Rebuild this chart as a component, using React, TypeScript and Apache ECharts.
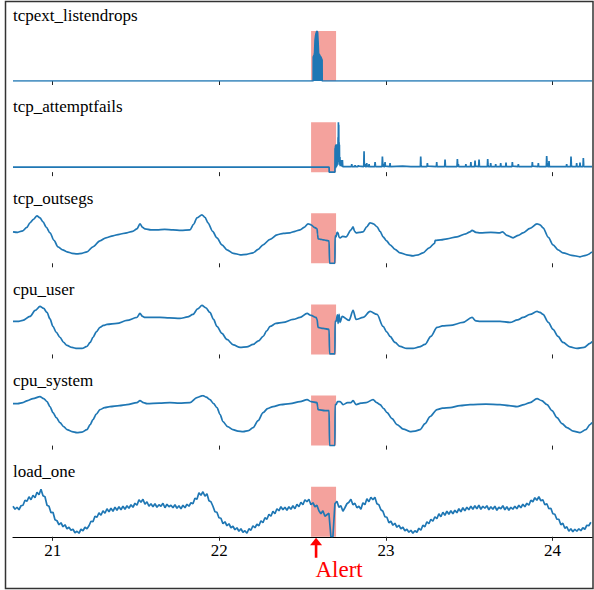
import React, { useEffect, useRef } from "react";
import * as echarts from "echarts";

// ---------- data ----------
const X_MIN = 20.762;
const X_MAX = 24.237;
const xTicks = [21, 22, 23, 24];
const panelNames = ["tcpext_listendrops", "tcp_attemptfails", "tcp_outsegs", "cpu_user", "cpu_system", "load_one"];
const alertStart = 22.551;
const alertEnd = 22.701;
const alertTime = 22.581;

// envelope of the dense burst (drawn filled)
const listendrops: [number, number][] = [
  [20.762, 0], [22.5635, 0], [22.564, 48], [22.569, 52], [22.572, 56], [22.575, 82], [22.578, 90], [22.581, 95],
  [22.584, 98], [22.587, 100], [22.590, 97], [22.593, 78], [22.596, 55], [22.600, 53], [22.605, 50], [22.611, 47],
  [22.617, 42], [22.6175, 0], [24.237, 0],
];

const attemptfails: [number, number][] = [
  [20.762, 10], [22.659, 10], [22.660, 0], [22.694, 0],
  [22.695, 48], [22.696, 10], [22.697, 52], [22.698, 8], [22.699, 55], [22.700, 12], [22.701, 54], [22.702, 10],
  [22.703, 56], [22.704, 14], [22.705, 55], [22.706, 12], [22.707, 54], [22.708, 20], [22.709, 52], [22.710, 15],
  [22.711, 55], [22.712, 25], [22.713, 70], [22.714, 30], [22.715, 100], [22.716, 35], [22.717, 95], [22.718, 30],
  [22.719, 60], [22.720, 20], [22.721, 55], [22.722, 15], [22.724, 30], [22.726, 12], [22.729, 24], [22.731, 12],
  [22.735, 22], [22.737, 11], [22.739, 24], [22.741, 11],
  [22.793, 11], [22.795, 16], [22.797, 11],
  [22.813, 11], [22.815, 14], [22.817, 11],
  [22.833, 11], [22.835, 14], [22.837, 12],
  [22.867, 11], [22.869, 42], [22.870, 20], [22.871, 15], [22.873, 13], [22.875, 16], [22.877, 11],
  [22.883, 11], [22.885, 18], [22.887, 12],
  [22.897, 11], [22.899, 16], [22.901, 11],
  [22.933, 11], [22.935, 20], [22.937, 14], [22.939, 11],
  [22.977, 11], [22.979, 31], [22.981, 18], [22.983, 14], [22.985, 17], [22.987, 11],
  [22.993, 11], [22.995, 20], [22.997, 12],
  [23.023, 11], [23.025, 18], [23.027, 11],
  [23.100, 12], [23.150, 11],
  [23.207, 11], [23.209, 31], [23.211, 15], [23.213, 11],
  [23.247, 11], [23.249, 18], [23.251, 12],
  [23.303, 11], [23.305, 20], [23.307, 11],
  [23.353, 11], [23.355, 25], [23.357, 14], [23.359, 11],
  [23.427, 11], [23.429, 26], [23.431, 15], [23.433, 13], [23.435, 16], [23.437, 11],
  [23.478, 11], [23.480, 16], [23.482, 11],
  [23.508, 11], [23.510, 20], [23.512, 11],
  [23.533, 11], [23.535, 23], [23.537, 12],
  [23.557, 11], [23.559, 25], [23.561, 14], [23.563, 11],
  [23.609, 11], [23.611, 26], [23.613, 15], [23.615, 11],
  [23.627, 11], [23.629, 18], [23.631, 11],
  [23.657, 11], [23.659, 16], [23.661, 11],
  [23.687, 11], [23.689, 18], [23.691, 11],
  [23.719, 11], [23.721, 19], [23.723, 11],
  [23.757, 11], [23.759, 20], [23.761, 12],
  [23.793, 11], [23.795, 16], [23.797, 11],
  [23.877, 11], [23.879, 20], [23.881, 12],
  [23.913, 11], [23.915, 18], [23.917, 11],
  [23.963, 11], [23.965, 32], [23.967, 20], [23.969, 14], [23.971, 11],
  [23.977, 11], [23.979, 22], [23.981, 11],
  [24.083, 11], [24.085, 16], [24.087, 11],
  [24.109, 11], [24.111, 31], [24.113, 15], [24.115, 11],
  [24.143, 11], [24.145, 18], [24.147, 11],
  [24.163, 11], [24.165, 19], [24.167, 11],
  [24.183, 11], [24.185, 28], [24.187, 14], [24.189, 11],
  [24.237, 11],
];

const outsegs: [number, number][] = [
  [20.762, 63], [20.790, 62], [20.821, 65], [20.845, 72], [20.864, 81], [20.885, 88], [20.906, 95], [20.924, 91],
  [20.942, 83], [20.962, 72], [20.984, 61], [21.008, 46], [21.032, 33], [21.060, 27], [21.086, 23], [21.116, 20],
  [21.146, 19], [21.176, 20], [21.206, 23], [21.242, 33], [21.284, 45], [21.320, 51], [21.362, 55], [21.400, 58],
  [21.446, 61], [21.480, 64], [21.506, 69], [21.524, 79], [21.540, 72], [21.554, 69], [21.590, 67], [21.626, 67],
  [21.672, 68], [21.722, 67], [21.770, 66], [21.824, 67], [21.846, 78], [21.866, 91], [21.896, 97], [21.914, 92],
  [21.932, 81], [21.960, 64], [21.986, 51], [22.016, 37], [22.046, 27], [22.085, 20], [22.125, 17], [22.165, 18],
  [22.203, 21], [22.233, 28], [22.263, 37], [22.305, 48], [22.347, 57], [22.385, 60], [22.425, 61], [22.455, 64],
  [22.485, 67], [22.510, 72], [22.533, 79], [22.551, 77], [22.570, 72], [22.587, 69], [22.590, 58], [22.593, 49],
  [22.608, 48], [22.623, 47], [22.640, 46], [22.659, 45], [22.661, 44], [22.662, 0], [22.694, 0], [22.695, 55],
  [22.701, 53], [22.707, 62], [22.713, 61], [22.719, 52], [22.725, 51], [22.740, 54], [22.761, 53], [22.791, 67],
  [22.803, 73], [22.812, 64], [22.821, 61], [22.842, 62], [22.863, 63], [22.885, 73], [22.905, 81], [22.925, 79],
  [22.947, 73], [22.965, 64], [22.983, 53], [23.004, 45], [23.025, 37], [23.055, 28], [23.085, 21], [23.125, 17],
  [23.163, 15], [23.195, 17], [23.223, 21], [23.260, 31], [23.292, 40], [23.296, 46], [23.330, 47], [23.367, 49],
  [23.427, 53], [23.480, 59], [23.505, 63], [23.517, 66], [23.540, 62], [23.565, 61], [23.630, 62], [23.685, 61],
  [23.700, 63], [23.725, 56], [23.763, 51], [23.795, 56], [23.823, 61], [23.865, 70], [23.907, 79], [23.925, 77],
  [23.943, 71], [23.975, 52], [24.003, 37], [24.033, 27], [24.063, 21], [24.115, 16], [24.165, 13], [24.200, 16],
  [24.237, 23],
];

const cpuUser: [number, number][] = [
  [20.762, 66], [20.790, 66], [20.821, 68], [20.864, 76], [20.895, 88], [20.924, 96], [20.946, 92], [20.966, 84],
  [20.984, 71], [21.002, 56], [21.022, 44], [21.044, 34], [21.066, 24], [21.086, 18], [21.116, 14], [21.146, 12],
  [21.176, 12], [21.206, 16], [21.225, 24], [21.242, 34], [21.262, 45], [21.284, 54], [21.305, 58], [21.326, 60],
  [21.386, 62], [21.446, 68], [21.506, 74], [21.524, 82], [21.540, 76], [21.554, 74], [21.644, 74], [21.700, 73],
  [21.764, 72], [21.810, 75], [21.842, 80], [21.870, 91], [21.896, 98], [21.920, 93], [21.944, 84], [21.966, 70],
  [21.986, 56], [22.016, 42], [22.046, 30], [22.085, 19], [22.125, 14], [22.165, 15], [22.203, 20], [22.235, 27],
  [22.263, 36], [22.285, 47], [22.305, 56], [22.340, 62], [22.383, 64], [22.443, 70], [22.485, 74], [22.527, 82],
  [22.551, 78], [22.581, 74], [22.587, 70], [22.593, 54], [22.623, 52], [22.659, 50], [22.661, 50], [22.662, 1],
  [22.694, 1], [22.695, 66], [22.701, 66], [22.709, 79], [22.713, 62], [22.719, 80], [22.725, 64], [22.737, 76],
  [22.779, 68], [22.803, 88], [22.821, 70], [22.863, 74], [22.905, 86], [22.947, 80], [22.983, 56], [23.005, 45],
  [23.025, 36], [23.055, 24], [23.085, 16], [23.125, 12], [23.163, 12], [23.200, 15], [23.235, 20], [23.270, 36],
  [23.307, 54], [23.340, 57], [23.385, 58], [23.463, 64], [23.517, 74], [23.540, 67], [23.565, 66], [23.685, 66],
  [23.745, 64], [23.790, 69], [23.823, 74], [23.865, 80], [23.907, 86], [23.925, 84], [23.943, 80], [23.975, 64],
  [24.003, 50], [24.033, 36], [24.063, 24], [24.105, 15], [24.147, 12], [24.190, 14], [24.225, 22], [24.237, 26],
];

const cpuSystem: [number, number][] = [
  [20.762, 84], [20.790, 84], [20.821, 86], [20.850, 90], [20.882, 94], [20.924, 98], [20.946, 94], [20.966, 88],
  [20.984, 78], [21.002, 66], [21.022, 56], [21.044, 46], [21.066, 38], [21.086, 32], [21.116, 28], [21.146, 26],
  [21.176, 27], [21.206, 32], [21.225, 42], [21.242, 52], [21.262, 63], [21.284, 72], [21.312, 76], [21.344, 78],
  [21.400, 80], [21.446, 82], [21.506, 86], [21.524, 90], [21.545, 86], [21.566, 84], [21.640, 85], [21.704, 86],
  [21.760, 85], [21.824, 86], [21.866, 96], [21.902, 100], [21.922, 97], [21.944, 92], [21.966, 84], [21.986, 76],
  [22.005, 62], [22.022, 48], [22.050, 38], [22.082, 32], [22.112, 29], [22.143, 28], [22.175, 30], [22.203, 36],
  [22.233, 50], [22.263, 66], [22.290, 74], [22.323, 78], [22.370, 82], [22.425, 84], [22.485, 88], [22.527, 92],
  [22.551, 88], [22.587, 86], [22.590, 78], [22.593, 72], [22.635, 70], [22.659, 70], [22.661, 70], [22.662, 0],
  [22.694, 0], [22.695, 82], [22.701, 82], [22.710, 88], [22.725, 88], [22.743, 82], [22.770, 86], [22.791, 86],
  [22.803, 90], [22.821, 82], [22.850, 85], [22.881, 86], [22.923, 92], [22.945, 86], [22.965, 82], [22.987, 74],
  [23.007, 66], [23.037, 54], [23.067, 42], [23.105, 33], [23.145, 28], [23.175, 29], [23.205, 32], [23.235, 44],
  [23.265, 58], [23.307, 72], [23.340, 75], [23.385, 76], [23.445, 80], [23.505, 82], [23.600, 83], [23.685, 82],
  [23.740, 80], [23.787, 78], [23.830, 82], [23.865, 86], [23.907, 94], [23.935, 90], [23.967, 82], [23.997, 70],
  [24.027, 56], [24.057, 44], [24.087, 36], [24.125, 29], [24.165, 26], [24.200, 32], [24.225, 42], [24.237, 46],
];

// load_one, sampled every 0.012 from loadStart
const loadStart = 20.762;
const loadStep = 0.012;
const loadOne = [
  61, 55, 59, 54, 62, 63, 73, 71, 80, 74,
  83, 78, 89, 84, 95, 82, 80, 63, 61, 48,
  49, 34, 32, 24, 28, 20, 24, 16, 19, 13,
  15, 8, 11, 7, 15, 12, 19, 16, 22, 31,
  30, 41, 39, 48, 43, 52, 47, 56, 50, 57,
  51, 59, 53, 60, 54, 61, 55, 62, 57, 64,
  59, 67, 63, 74, 69, 75, 65, 70, 61, 66,
  60, 66, 59, 64, 61, 67, 58, 65, 60, 63,
  58, 64, 57, 62, 56, 63, 58, 65, 61, 68,
  66, 77, 75, 88, 83, 90, 81, 86, 72, 70,
  61, 50, 49, 38, 37, 26, 30, 22, 26, 18,
  21, 14, 18, 11, 16, 9, 12, 7, 16, 13,
  22, 18, 25, 22, 32, 28, 38, 35, 45, 41,
  51, 46, 56, 52, 60, 54, 59, 53, 60, 55,
  62, 56, 65, 60, 69, 64, 74, 70, 75, 64,
  68, 60, 63, 52, 46, 52, 41, 44, 47, 0,
  0, 66, 71, 59, 62, 51, 58, 66, 69, 75,
  64, 67, 58, 61, 55, 68, 64, 76, 70, 79,
  74, 79, 66, 64, 54, 51, 40, 39, 28, 31,
  23, 27, 19, 23, 16, 19, 12, 15, 9, 13,
  7, 12, 9, 17, 13, 23, 20, 30, 26, 35,
  31, 40, 36, 46, 40, 49, 43, 51, 45, 52,
  46, 53, 48, 56, 50, 58, 52, 59, 54, 61,
  55, 62, 56, 63, 55, 61, 57, 62, 54, 60,
  55, 61, 53, 59, 56, 62, 54, 60, 53, 59,
  55, 61, 56, 63, 58, 65, 60, 67, 63, 73,
  70, 78, 73, 80, 72, 74, 64, 66, 56, 57,
  46, 45, 35, 35, 24, 27, 17, 20, 11, 16,
  10, 15, 11, 16, 12, 18, 15, 23, 22, 29,
];

const LINE_COLOR = "#1f77b4";
const SPAN_COLOR = "#f4a29d";
const SERIF = "'Liberation Serif', 'Times New Roman', serif";

export default function App() {
  const ref = useRef<HTMLDivElement>(null);

  useEffect(() => {
    if (!ref.current) return;
    const chart = echarts.init(ref.current, undefined, { renderer: "svg" });
    const H = 50;
    const tops = panelNames.map((_, i) => 31 + 91.15 * i);
    const seriesData: [number, number][][] = [
      listendrops,
      attemptfails,
      outsegs,
      cpuUser,
      cpuSystem,
      loadOne.map((v, i) => [loadStart + i * loadStep, v] as [number, number]),
    ];
    const smoothIdx = [2, 3, 4];
    const last = panelNames.length - 1;

    const grid = tops.map((t) => ({ left: 13, right: 2, top: t, height: H, outerBoundsMode: "none" }));
    const xAxis = tops.map((_, i) => ({
      type: "value",
      gridIndex: i,
      min: X_MIN,
      max: X_MAX,
      splitLine: { show: false },
      axisLine: { show: i === last, onZero: false, lineStyle: { color: "#000", width: 1.2 } },
      axisTick: { show: true, customValues: xTicks, length: 4, lineStyle: { color: "#222", width: 1 } },
      axisLabel: {
        show: i === last,
        customValues: xTicks,
        margin: 5,
        fontFamily: SERIF,
        fontSize: 17,
        color: "#000",
        formatter: (v: number) => String(Math.round(v)),
      },
    }));
    const yAxis = tops.map((_, i) => ({ type: "value", gridIndex: i, min: 0, max: 100, show: false }));

    const series: any[] = [];
    seriesData.forEach((d, i) => {
      series.push({
        type: "line",
        xAxisIndex: i,
        yAxisIndex: i,
        data: [[alertStart, 0]],
        symbol: "none",
        silent: true,
        z: 1,
        lineStyle: { width: 0, opacity: 0 },
        markArea: {
          silent: true,
          itemStyle: { color: SPAN_COLOR, opacity: 1 },
          data: [[{ xAxis: alertStart }, { xAxis: alertEnd }]],
        },
      });
      const s: any = {
        type: "line",
        name: panelNames[i],
        xAxisIndex: i,
        yAxisIndex: i,
        data: d,
        symbol: "none",
        z: 3,
        lineStyle: { color: LINE_COLOR, width: 1.7 },
      };
      if (i === 0) s.areaStyle = { color: LINE_COLOR, opacity: 1 };
      if (smoothIdx.includes(i)) {
        s.smooth = 0.3;
        s.smoothMonotone = "x";
      }
      series.push(s);
    });

    chart.setOption({
      animation: false,
      backgroundColor: "#fff",
      grid,
      xAxis,
      yAxis,
      series,
    });

    const ax = chart.convertToPixel({ xAxisIndex: last }, alertTime) as number;
    const axisY = tops[last] + H;

    const graphic: any[] = [
      {
        type: "rect",
        shape: { x: 5.5, y: 1.5, width: 587.5, height: 587 },
        style: { fill: "none", stroke: "#333", lineWidth: 1.5 },
        silent: true,
      },
      ...panelNames.map((name, i) => ({
        type: "text",
        x: 13,
        y: tops[i] - 15.2,
        style: { text: name, font: `17px ${SERIF}`, fill: "#000", verticalAlign: "middle", align: "left" },
        silent: true,
      })),
      {
        type: "polygon",
        shape: { points: [[ax - 6, axisY + 8.5], [ax + 6, axisY + 8.5], [ax, axisY + 1]] },
        style: { fill: "#ff0000" },
        silent: true,
      },
      {
        type: "rect",
        shape: { x: ax - 1.3, y: axisY + 8, width: 2.6, height: 13 },
        style: { fill: "#ff0000" },
        silent: true,
      },
      {
        type: "text",
        x: ax + 23,
        y: axisY + 32.5,
        style: { text: "Alert", font: `23px ${SERIF}`, fill: "#ff0000", align: "center", verticalAlign: "middle" },
        silent: true,
      },
    ];
    chart.setOption({ graphic });

    return () => chart.dispose();
  }, []);

  return (
    <div
      ref={ref}
      style={{ position: "fixed", left: 0, top: 0, width: 594, height: 590, background: "#fff" }}
    />
  );
}
